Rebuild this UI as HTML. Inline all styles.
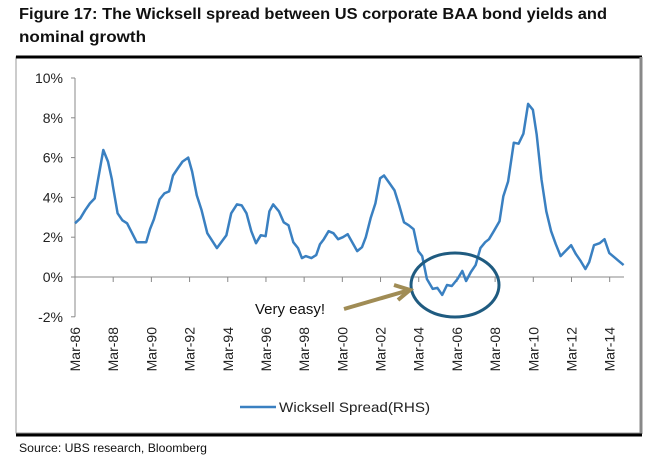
<!DOCTYPE html>
<html><head><meta charset="utf-8"><style>
html,body{margin:0;padding:0;background:#fff;}
svg{display:block;font-family:"Liberation Sans",sans-serif;}
</style></head><body>
<svg id="chart" width="657" height="461" viewBox="0 0 657 461" xmlns="http://www.w3.org/2000/svg">
<text x="19" y="19" font-size="16" font-weight="bold" fill="#111" textLength="588" lengthAdjust="spacingAndGlyphs">Figure 17: The Wicksell spread between US corporate BAA bond yields and</text>
<text x="19" y="42" font-size="16" font-weight="bold" fill="#111" textLength="127" lengthAdjust="spacingAndGlyphs">nominal growth</text>
<rect x="16" y="57" width="625" height="376" fill="none" stroke="#999" stroke-width="1"/>
<line x1="16" y1="57" x2="642" y2="57" stroke="#000" stroke-width="3"/>
<line x1="641" y1="57" x2="641" y2="434" stroke="#888" stroke-width="3"/>
<line x1="16" y1="435" x2="642" y2="435" stroke="#000" stroke-width="3"/>
<g id="axes"></g>
<path id="series" fill="none" stroke="#3a80c1" stroke-width="2.5" stroke-linejoin="round"/>
<ellipse cx="455" cy="285" rx="44" ry="32" fill="none" stroke="#1f5b80" stroke-width="3"/>
<line x1="344" y1="309" x2="406" y2="291" stroke="#a08c55" stroke-width="4"/>
<polyline points="394,285 410,290 398,300" fill="none" stroke="#a08c55" stroke-width="4"/>
<text x="255" y="314" font-size="15" fill="#111">Very easy!</text>
<line x1="240" y1="407" x2="276" y2="407" stroke="#3a80c1" stroke-width="2.5"/>
<text x="279" y="412" font-size="14" fill="#222" textLength="151" lengthAdjust="spacingAndGlyphs">Wicksell Spread(RHS)</text>
<text x="19" y="452" font-size="12" fill="#111" textLength="188" lengthAdjust="spacingAndGlyphs">Source:  UBS research, Bloomberg</text>
</svg>
<script>
const years = [1986.17,1986.45,1986.7,1986.95,1987.2,1987.65,1987.9,1988.1,1988.15,1988.4,1988.65,1988.9,1989.4,1989.9,1990.1,1990.3,1990.6,1990.85,1991.1,1991.3,1991.55,1991.8,1992.1,1992.3,1992.55,1992.8,1993.1,1993.6,1994.1,1994.35,1994.65,1994.9,1995.15,1995.4,1995.65,1995.9,1996.15,1996.35,1996.55,1996.85,1997.1,1997.35,1997.6,1997.85,1998.05,1998.25,1998.55,1998.8,1999.0,1999.2,1999.45,1999.7,1999.95,2000.2,2000.45,2000.95,2001.2,2001.4,2001.65,2001.9,2002.15,2002.35,2002.65,2002.9,2003.15,2003.4,2003.65,2003.9,2004.15,2004.35,2004.6,2004.9,2005.15,2005.4,2005.65,2005.9,2006.2,2006.45,2006.65,2006.9,2007.15,2007.4,2007.65,2007.85,2008.1,2008.4,2008.6,2008.85,2009.15,2009.4,2009.65,2009.9,2010.15,2010.35,2010.6,2010.85,2011.1,2011.35,2011.6,2011.85,2012.15,2012.4,2012.65,2012.9,2013.1,2013.35,2013.65,2013.9,2014.15,2014.4,2014.65,2014.9];
const values = [2.7,2.95,3.35,3.7,3.95,6.38,5.8,4.9,4.6,3.2,2.85,2.7,1.75,1.75,2.4,2.9,3.9,4.2,4.3,5.1,5.45,5.8,6.0,5.3,4.1,3.35,2.2,1.45,2.1,3.2,3.65,3.6,3.2,2.3,1.7,2.1,2.05,3.3,3.65,3.3,2.75,2.6,1.75,1.45,0.95,1.05,0.95,1.1,1.65,1.9,2.3,2.2,1.9,2.0,2.15,1.3,1.5,2.0,2.95,3.7,4.96,5.1,4.7,4.35,3.6,2.75,2.6,2.4,1.3,1.05,-0.1,-0.6,-0.55,-0.9,-0.4,-0.45,-0.1,0.3,-0.2,0.25,0.6,1.45,1.75,1.9,2.3,2.8,4.05,4.8,6.75,6.7,7.2,8.7,8.4,7.15,4.9,3.3,2.3,1.65,1.05,1.3,1.6,1.15,0.8,0.4,0.75,1.6,1.7,1.9,1.2,1.0,0.8,0.6];
const yTicks = [10,8,6,4,2,0,-2];
const xTickYears = [1986,1988,1990,1992,1994,1996,1998,2000,2002,2004,2006,2008,2010,2012,2014];
const xTickLabels = ["Mar-86","Mar-88","Mar-90","Mar-92","Mar-94","Mar-96","Mar-98","Mar-00","Mar-02","Mar-04","Mar-06","Mar-08","Mar-10","Mar-12","Mar-14"];

const NS="http://www.w3.org/2000/svg";
const X0=75, X1=624, Y0=1986.17, Y1=2014.92;
function xs(yr){return X0+(yr-Y0)*(X1-X0)/(Y1-Y0);}
function ys(v){return 277-v*19.9;}
const g=document.getElementById('axes');
function mk(tag,attrs){const e=document.createElementNS(NS,tag);for(const k in attrs)e.setAttribute(k,attrs[k]);g.appendChild(e);return e;}
const ya=mk('line',{x1:X0,y1:ys(10),x2:X0,y2:ys(-2),stroke:'#888','stroke-width':1});


const xa=mk('line',{x1:X0,y1:ys(0),x2:X1,y2:ys(0),stroke:'#888','stroke-width':1});


yTicks.forEach(v=>{
  mk('line',{x1:X0-4,y1:ys(v),x2:X0,y2:ys(v),stroke:'#888'});
  const t=mk('text',{x:X0-12,y:ys(v)+5,'font-size':14,'text-anchor':'end',fill:'#222'});
  t.textContent=v+'%';
  
  
});
xTickYears.forEach((yr,i)=>{
  const x=xs(yr+0.17);
  mk('line',{x1:x,y1:ys(0),x2:x,y2:ys(0)+5,stroke:'#888'});
  const t=mk('text',{x:0,y:0,'font-size':14,'text-anchor':'end',fill:'#222',transform:`translate(${x+5},${327}) rotate(-90)`});
  t.textContent=xTickLabels[i];
  
  
});
document.getElementById('series').setAttribute('d',values.map((v,i)=>(i?'L':'M')+xs(years[i]).toFixed(1)+','+ys(v).toFixed(1)).join(''));
</script>
</body></html>
